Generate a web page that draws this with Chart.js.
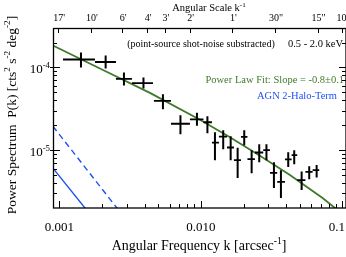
<!DOCTYPE html>
<html><head><meta charset="utf-8">
<script src="https://cdn.jsdelivr.net/npm/chart.js@4/dist/chart.umd.min.js"></script>
<style>html,body{margin:0;padding:0;background:#fff;overflow:hidden;}canvas{display:block;}</style>
</head><body>
<canvas id="c" width="346" height="257"></canvas>
<script>
// ---- data ----
const binK  = [1.419e-3, 2.12e-3, 2.856e-3, 3.924e-3, 5.386e-3, 7.163e-3, 9.37e-3, 1.111e-2, 1.256e-2, 1.437e-2, 1.622e-2, 1.817e-2, 2.023e-2, 2.282e-2, 2.582e-2, 2.904e-2, 3.28e-2, 3.676e-2, 4.14e-2, 4.564e-2, 5.148e-2, 5.826e-2, 6.573e-2];
const binLo = [1.059e-3, 1.782e-3, 2.507e-3, 3.253e-3, 4.654e-3, 6.137e-3, 8.36e-3, 1.042e-2, 1.196e-2, 1.340e-2, 1.527e-2, 1.711e-2, 1.918e-2, 2.131e-2, 2.407e-2, 2.756e-2, 3.074e-2, 3.46e-2, 3.924e-2, 4.375e-2, 4.792e-2, 5.476e-2, 6.158e-2];
const binHi = [1.782e-3, 2.507e-3, 3.253e-3, 4.580e-3, 6.137e-3, 8.36e-3, 1.042e-2, 1.196e-2, 1.340e-2, 1.527e-2, 1.711e-2, 1.918e-2, 2.131e-2, 2.407e-2, 2.756e-2, 3.074e-2, 3.46e-2, 3.924e-2, 4.375e-2, 4.792e-2, 5.476e-2, 6.158e-2, 6.855e-2];
const power = [1.248e-4, 1.165e-4, 7.27e-5, 6.47e-5, 3.95e-5, 2.086e-5, 2.363e-5, 2.175e-5, 1.231e-5, 1.462e-5, 1.078e-5, 7.58e-6, 1.446e-5, 7.79e-6, 9.38e-6, 1.0e-5, 5.33e-6, 4.15e-6, 7.73e-6, 8.70e-6, 4.35e-6, 5.48e-6, 5.74e-6];
const powerHi = [1.516e-4, 1.395e-4, 8.70e-5, 7.58e-5, 4.73e-5, 2.64e-5, 2.83e-5, 2.57e-5, 1.647e-5, 1.742e-5, 1.475e-5, 1.072e-5, 1.742e-5, 1.0e-5, 1.181e-5, 1.181e-5, 7.17e-6, 5.74e-6, 9.46e-6, 1.0e-5, 5.51e-6, 6.41e-6, 6.60e-6];
const powerLo = [1.0e-4, 9.72e-5, 6.07e-5, 5.58e-5, 3.12e-5, 1.559e-5, 1.973e-5, 1.602e-5, 7.58e-6, 1.028e-5, 7.58e-6, 4.60e-6, 1.149e-5, 5.28e-6, 7.17e-6, 7.58e-6, 3.48e-6, 2.64e-6, 6.24e-6, 6.78e-6, 3.30e-6, 4.44e-6, 4.69e-6];

const fitK = [8.99e-4, 1.932e-3, 4.36e-3, 9.84e-3, 1.603e-2, 2.612e-2, 4.256e-2, 7.28e-2, 9.60e-2];
const fitP = [1.841e-4, 9.72e-5, 4.93e-5, 2.33e-5, 1.434e-5, 8.58e-6, 5.0e-6, 2.62e-6, 1.79e-6];

const haloK = [8.99e-4, 1.6e-3];
const haloP = [6.07e-6, 1.78e-6];
const haloUpK = [8.99e-4, 2.7e-3];
const haloUpP = [1.946e-5, 1.76e-6];

const xTickVals = [0.001, 0.01, 0.1];
const xTickLabels = ["0.001", "0.010", "0.1"];
const yTickVals = [1e-5, 1e-4];
const yTickExp = ["-5", "-4"];
const scaleArcsec = [1020, 600, 360, 240, 180, 120, 60, 30, 15, 10];
const scaleLabels = ["17'", "10'", "6'", "4'", "3'", "2'", "1'", '30"', '15"', '10"'];

const kMin = 9e-4, kMax = 0.106, pMin = 2e-6, pMax = 3e-4;

// ---- build datasets ----
const hBars = [], vBars = [];
for (let i = 0; i < binK.length; i++) {
  hBars.push({x: binLo[i], y: power[i]}, {x: binHi[i], y: power[i]}, {x: binHi[i], y: null});
  vBars.push({x: binK[i], y: powerLo[i]}, {x: binK[i], y: powerHi[i]}, {x: binK[i], y: null});
}
const zip = (a, b) => a.map((v, i) => ({x: v, y: b[i]}));

const SERIF = '"Liberation Serif", "Times New Roman", serif';
const GREEN = '#3f7a2b';
const BLUE = '#1f50f5';

function drawRich(ctx, segs, x, y, size, align) {
  let w = 0;
  const supSize = size * 0.68;
  segs.forEach(s => { ctx.font = (s[1] ? supSize : size) + 'px ' + SERIF; w += ctx.measureText(s[0]).width; });
  let cx = align === 'center' ? x - w / 2 : (align === 'right' ? x - w : x);
  ctx.textBaseline = 'alphabetic';
  ctx.textAlign = 'left';
  segs.forEach(s => {
    ctx.font = (s[1] ? supSize : size) + 'px ' + SERIF;
    ctx.fillText(s[0], cx, s[1] ? y - size * 0.42 : y);
    cx += ctx.measureText(s[0]).width;
  });
}

const decor = {
  id: 'decor',
  afterDraw(chart) {
    const ctx = chart.ctx;
    const xs = chart.scales.x, ys = chart.scales.y;
    const a = chart.chartArea;
    const W = chart.width;
    ctx.save();
    ctx.strokeStyle = '#000';
    ctx.fillStyle = '#000';
    ctx.lineWidth = 1.3;
    ctx.strokeRect(a.left + 0.5, a.top + 0.5, a.right - a.left - 0.5, a.bottom - a.top - 0.5);
    ctx.lineWidth = 1;
    const xMinor = [];
    for (let e = -4; e <= -1; e++) for (let m = 1; m <= 9; m++) xMinor.push(m * Math.pow(10, e));
    xMinor.forEach(v => {
      if (v <= kMin * 1.001 || v >= kMax) return;
      const px = Math.round(xs.getPixelForValue(v)) + 0.5;
      const major = Math.abs(Math.log10(v) - Math.round(Math.log10(v))) < 1e-6;
      const len = major ? 7 : 4;
      ctx.beginPath(); ctx.moveTo(px, a.bottom); ctx.lineTo(px, a.bottom - len); ctx.stroke();
    });
    scaleArcsec.forEach(s => {
      const v = 1 / s;
      if (v <= kMin || v >= kMax) return;
      const px = Math.round(xs.getPixelForValue(v)) + 0.5;
      ctx.beginPath(); ctx.moveTo(px, a.top); ctx.lineTo(px, a.top + 5); ctx.stroke();
    });
    const yMinor = [];
    for (let e = -6; e <= -4; e++) for (let m = 1; m <= 9; m++) yMinor.push(m * Math.pow(10, e));
    yMinor.forEach(v => {
      if (v <= pMin * 1.001 || v >= pMax * 0.999) return;
      const py = Math.round(ys.getPixelForValue(v)) + 0.5;
      const major = Math.abs(Math.log10(v) - Math.round(Math.log10(v))) < 1e-6;
      const len = major ? 7 : 4;
      ctx.beginPath();
      ctx.moveTo(a.left - (major ? 3 : 0), py); ctx.lineTo(a.left + len, py);
      ctx.moveTo(a.right, py); ctx.lineTo(a.right - len, py);
      ctx.stroke();
    });
    // x tick labels
    ctx.font = '13px ' + SERIF;
    ctx.textAlign = 'center';
    ctx.textBaseline = 'alphabetic';
    xTickVals.forEach((v, i) => {
      const w = ctx.measureText(xTickLabels[i]).width;
      const px = Math.min(xs.getPixelForValue(v), W - w / 2 - 1);
      ctx.fillText(xTickLabels[i], px, 231);
    });
    // y tick labels
    yTickVals.forEach((v, i) => {
      const py = ys.getPixelForValue(v);
      drawRich(ctx, [["10", 0], [yTickExp[i], 1]], 50, py + 6, 13, 'right');
    });
    // top tick labels
    ctx.font = '10px ' + SERIF;
    ctx.textAlign = 'center';
    scaleArcsec.forEach((s, i) => {
      ctx.fillText(scaleLabels[i], xs.getPixelForValue(1 / s) + 1, 21);
    });
    drawRich(ctx, [["Angular Scale k", 0], ["-1", 1]], 209, 11, 10.5, 'center');
    drawRich(ctx, [["Angular Frequency k [arcsec", 0], ["-1", 1], ["]", 0]], 199, 250, 14, 'center');
    ctx.save();
    ctx.translate(16, 115);
    ctx.rotate(-Math.PI / 2);
    drawRich(ctx, [["Power Spectrum  P(k) [cts", 0], ["2", 1], [" s", 0], ["-2", 1], [" deg", 0], ["-2", 1], ["]", 0]], 0, 0, 13.5, 'center');
    ctx.restore();
    // annotations
    ctx.font = '10px ' + SERIF;
    ctx.textAlign = 'center';
    ctx.fillText('(point-source shot-noise substracted)', 201, 47);
    ctx.font = '10.5px ' + SERIF;
    ctx.textAlign = 'right';
    ctx.fillText('0.5 - 2.0 keV', 343, 47);
    ctx.fillStyle = GREEN;
    ctx.fillText('Power Law Fit: Slope = -0.8\u00b10.1', 344, 83);
    ctx.fillStyle = BLUE;
    ctx.fillText('AGN 2-Halo-Term', 337, 99);
    ctx.restore();
  }
};

new Chart(document.getElementById('c'), {
  type: 'line',
  data: {
    datasets: [
      {data: zip(fitK, fitP), borderColor: GREEN, borderWidth: 1.8, pointRadius: 0, order: 3},
      {data: zip(haloK, haloP), borderColor: BLUE, borderWidth: 1.4, pointRadius: 0, order: 3},
      {data: zip(haloUpK, haloUpP), borderColor: BLUE, borderWidth: 1.4, borderDash: [6, 4], pointRadius: 0, order: 3},
      {data: hBars, borderColor: '#000', borderWidth: 1.8, pointRadius: 0, spanGaps: false, order: 1},
      {data: vBars, borderColor: '#000', borderWidth: 2, pointRadius: 0, spanGaps: false, order: 1}
    ]
  },
  options: {
    responsive: false,
    animation: false,
    events: [],
    layout: {padding: {top: 28, right: 0, left: 0, bottom: 0}},
    plugins: {legend: {display: false}, tooltip: {enabled: false}},
    scales: {
      x: {
        type: 'logarithmic', min: kMin, max: kMax, bounds: 'data',
        grid: {display: false}, border: {display: false}, ticks: {display: false},
        afterFit(s) { s.height = 49; }
      },
      y: {
        type: 'logarithmic', min: pMin, max: pMax, bounds: 'data',
        grid: {display: false}, border: {display: false}, ticks: {display: false},
        afterFit(s) { s.width = 53; }
      }
    }
  },
  plugins: [decor]
});
</script>
</body></html>
